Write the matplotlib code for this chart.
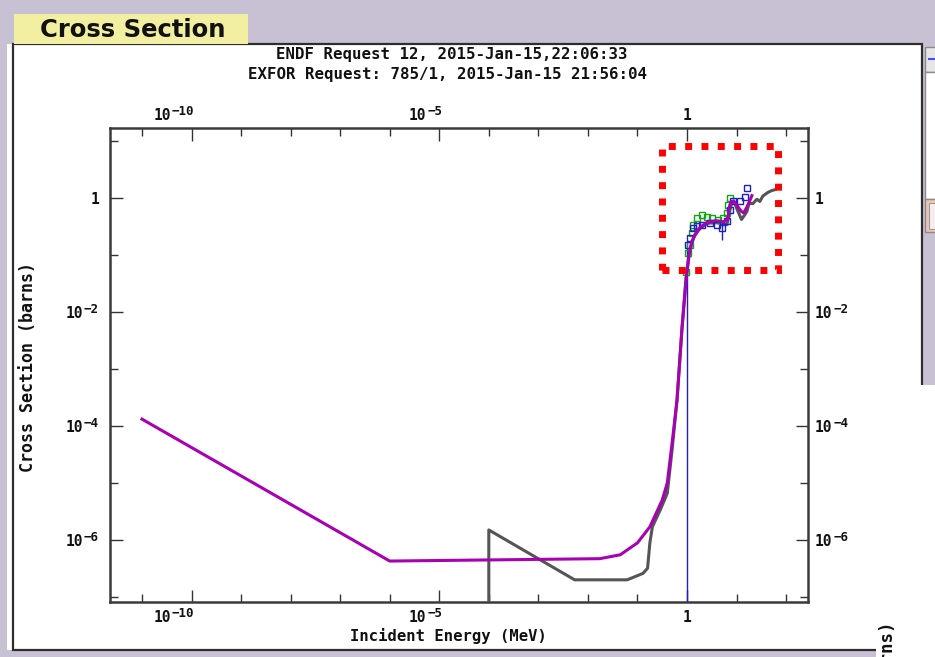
import math
import matplotlib
matplotlib.use("Agg")
import matplotlib.pyplot as plt
import matplotlib.transforms as mtransforms
from matplotlib.patches import Rectangle
from matplotlib.ticker import FixedLocator, NullFormatter

MONO = "DejaVu Sans Mono"

# ---- evaluated cross section (ENDF, purple) ----
endf_e = [1e-11, 1e-6, 1.74e-2, 4.5e-2, 0.1, 0.178, 0.316, 0.40, 0.50, 0.63,
          0.79, 0.955, 1.1, 1.25, 1.45, 1.8, 2.6, 3.9, 5.4, 6.6, 7.3, 8.0,
          8.8, 10.0, 12.5, 14.0, 16.0, 18.0, 20.4]
endf_s = [1.32e-4, 4.27e-7, 4.7e-7, 5.5e-7, 8.9e-7, 1.7e-6, 5.0e-6, 1.0e-5,
          5.0e-5, 2.9e-4, 5.0e-3, 0.035, 0.10, 0.17, 0.23, 0.30, 0.38, 0.40,
          0.38, 0.42, 0.75, 0.88, 0.86, 0.76, 0.58, 0.55, 0.68, 0.85, 1.10]

# ---- second evaluation (grey) ----
eval2_e = [1e-4, 1e-4, 5.4e-3, 1.74e-2, 6.2e-2, 0.13, 0.16, 0.178, 0.20,
           0.29, 0.40, 0.50, 0.63, 0.79, 0.955, 1.1, 1.25, 1.45, 1.8, 2.6,
           3.9, 5.4, 6.4, 7.3, 8.0, 8.9, 10.5, 12.6, 14.5, 16.2, 17.8, 21.4,
           25.7, 29.5, 33.9, 42.7, 51.3, 60.0]
eval2_s = [1e-9, 1.5e-6, 2.0e-7, 2.0e-7, 2.0e-7, 2.6e-7, 3.2e-7, 8.9e-7,
           1.7e-6, 3.4e-6, 6.6e-6, 3.8e-5, 2.9e-4, 5.0e-3, 0.04, 0.10, 0.17,
           0.22, 0.29, 0.36, 0.37, 0.35, 0.34, 0.60, 0.85, 0.88, 0.60, 0.42,
           0.50, 0.58, 0.80, 0.80, 0.95, 0.87, 1.08, 1.25, 1.35, 1.40]

# ---- EXFOR measurement, set 1 (blue squares) ----
exp1_e = [1.05, 1.15, 1.32, 1.58, 2.0, 2.9, 4.1, 5.1, 6.5, 7.4, 8.5, 11.7, 14.8, 16.2]
exp1_s = [0.15, 0.20, 0.30, 0.32, 0.34, 0.36, 0.34, 0.30, 0.40, 0.62, 0.89, 0.89, 1.05, 1.50]
exp1_err_e = [5.1]
exp1_err_lo = [0.18]
exp1_err_hi = [0.41]
# threshold line of set 1
exp1_line_e = [1.0, 1.0]
exp1_line_s = [1e-9, 0.15]

# ---- EXFOR measurement, set 2 (green squares) ----
exp2_e = [0.97, 1.05, 1.15, 1.26, 1.32, 1.58, 2.0, 2.5, 3.2, 4.2, 5.3, 6.4, 6.7, 7.4]
exp2_s = [0.05, 0.11, 0.15, 0.24, 0.34, 0.45, 0.50, 0.46, 0.45, 0.41, 0.45, 0.55, 0.75, 1.00]

# highlighted region (energy, cross-section corners)
box_e = [0.316, 69.0]
box_s = [0.055, 8.1]

x_major = [1e-10, 1e-5, 1.0]
x_minor = [10.0 ** k for k in range(-11, 3)]
y_major = [1.0, 1e-2, 1e-4, 1e-6]
y_minor = [10.0 ** k for k in range(-7, 2)]

W, H = 935, 657
fig = plt.figure(figsize=(W / 100, H / 100), dpi=100)
fig.patch.set_facecolor("#c8c0d3")


def box(x0, y0, x1, y1, **kw):
    kw.setdefault("zorder", -5)
    fig.add_artist(Rectangle((x0 / W, 1 - y1 / H), (x1 - x0) / W, (y1 - y0) / H,
                             transform=fig.transFigure, **kw))


# page panels
box(7, 44, 13, 650, facecolor="white", edgecolor="none")
box(13, 44, 922, 650, facecolor="white", edgecolor="#2e2e2e", linewidth=1.6)
box(876, 385, 935, 657, facecolor="white", edgecolor="none", zorder=-4)
box(14, 14, 248, 44, facecolor="#f3efa2", edgecolor="none")
# side widget
box(925, 47, 936, 72, facecolor="#e6e6e6", edgecolor="#8a8a8a", linewidth=1)
fig.add_artist(plt.Line2D([929 / W, 935 / W], [1 - 59 / H, 1 - 59 / H],
                          color="#4b4bf0", linewidth=1.5, transform=fig.transFigure))
box(925, 72, 936, 199, facecolor="white", edgecolor="#8a8a8a", linewidth=1)
box(925, 199, 936, 232, facecolor="#efc5b3", edgecolor="#8a8a8a", linewidth=1)
box(929, 203, 936, 229, facecolor="#f4eeee", edgecolor="#9a9a9a", linewidth=0.8)

fig.text(40 / W, 1 - 30 / H, "Cross Section", fontsize=17.5, fontweight="bold",
         family="DejaVu Sans", va="center", ha="left", color="#111111")

ax = fig.add_axes([110 / W, 1 - 602 / H, 698 / W, 474 / H])
ax.set_xscale("log")
ax.set_yscale("log")
ax.set_xlim(10 ** -11.645, 10 ** 2.442)
ax.set_ylim(10 ** -7.088, 10 ** 1.228)

ax.plot(eval2_e, eval2_s, color="#555555", linewidth=2.2, zorder=3)
ax.plot(endf_e, endf_s, color="#a800b4", linewidth=2.2, zorder=5)
ax.plot(exp1_line_e, exp1_line_s, color="#1f1fc8", linewidth=1.0, zorder=4)
ax.vlines(exp1_err_e, exp1_err_lo, exp1_err_hi, color="#1f1fc8", linewidth=1.0, zorder=4)
ax.plot(exp2_e, exp2_s, linestyle="none", marker="s", markersize=5,
        markerfacecolor="none", markeredgecolor="#11a611", markeredgewidth=1, zorder=4)
ax.plot(exp1_e, exp1_s, linestyle="none", marker="s", markersize=5,
        markerfacecolor="none", markeredgecolor="#1f1fc8", markeredgewidth=1, zorder=4)

ax.add_patch(Rectangle((box_e[0], box_s[0]), box_e[1] - box_e[0], box_s[1] - box_s[0],
                       fill=False, edgecolor="#ff0000", linewidth=5.0,
                       linestyle=(0, (1.0, 1.35)), capstyle="butt", zorder=6))

ax.xaxis.set_major_locator(FixedLocator(x_major))
ax.xaxis.set_minor_locator(FixedLocator(x_minor))
ax.yaxis.set_major_locator(FixedLocator(y_major))
ax.yaxis.set_minor_locator(FixedLocator(y_minor))
for a in (ax.xaxis, ax.yaxis):
    a.set_major_formatter(NullFormatter())
    a.set_minor_formatter(NullFormatter())

ax.tick_params(which="both", direction="in", top=True, right=True,
               color="#333333", width=1)
ax.tick_params(which="major", length=9)
ax.tick_params(which="minor", length=5.5)
for sp in ax.spines.values():
    sp.set_linewidth(1.8)
    sp.set_color("#3a3a3a")

# ---- power-of-ten tick labels: "10" with a raised exponent ----
BASE_PT = 10.5
EXP_PT = 9.0
CHAR = 0.602 * 100 / 72          # monospace advance, px per pt


def label_text(base, xy, dx, dy, txt, size, ha):
    tr = mtransforms.offset_copy(base, fig=fig, x=dx, y=dy, units="dots")
    ax.text(xy[0], xy[1], txt, transform=tr, family=MONO, fontweight="bold",
            fontsize=size, ha=ha, va="baseline", color="#111111", clip_on=False)


def power_label(base, xy, k, edge_x, dy_base, dy_exp, anchor):
    """anchor='right': block ends at edge_x; anchor='left': block starts at edge_x."""
    exp = "\u2212" + str(-k) if k < 0 else str(k)
    w_exp = len(exp) * CHAR * EXP_PT
    w_base = 2 * CHAR * BASE_PT
    if anchor == "right":
        label_text(base, xy, edge_x, dy_exp, exp, EXP_PT, "right")
        label_text(base, xy, edge_x - w_exp - 1, dy_base, "10", BASE_PT, "right")
    else:
        label_text(base, xy, edge_x, dy_base, "10", BASE_PT, "left")
        label_text(base, xy, edge_x + w_base + 1, dy_exp, exp, EXP_PT, "left")


xt = ax.get_xaxis_transform()
yt = ax.get_yaxis_transform()
for v in x_major:
    k = int(round(math.log10(v)))
    if k == 0:
        label_text(xt, (v, 0), 0, -20, "1", BASE_PT, "center")
        label_text(xt, (v, 1), 0, 8, "1", BASE_PT, "center")
    else:
        power_label(xt, (v, 0), k, 3, -20, -15, "right")
        power_label(xt, (v, 1), k, 3, 8, 13, "right")
for v in y_major:
    k = int(round(math.log10(v)))
    if k == 0:
        label_text(yt, (0, v), -11, -6, "1", BASE_PT, "right")
        label_text(yt, (1, v), 7, -6, "1", BASE_PT, "left")
    else:
        power_label(yt, (0, v), k, -11, -6, -1, "right")
        power_label(yt, (1, v), k, 7, -6, -1, "left")

ax.set_xlabel("Incident Energy (MeV)", family=MONO, fontweight="bold",
              fontsize=11.2, color="#111111", va="center")
ax.xaxis.set_label_coords((448 - 110) / 698, (602 - 636) / 474)
ax.set_ylabel("Cross Section (barns)", family=MONO, fontweight="bold",
              fontsize=12, color="#111111", va="center")
ax.yaxis.set_label_coords((28 - 110) / 698, (602 - 367) / 474)

fig.text(452 / W, 1 - 55 / H, "ENDF Request 12, 2015-Jan-15,22:06:33",
         family=MONO, fontweight="bold", fontsize=11.3, ha="center", va="center",
         color="#111111")
fig.text(447 / W, 1 - 75 / H, "EXFOR Request: 785/1, 2015-Jan-15 21:56:04",
         family=MONO, fontweight="bold", fontsize=11.3, ha="center", va="center",
         color="#111111")

# right-hand axis title, running off the bottom of the page
fig.text(888 / W, 1 - 622 / H, "Cross Section (barns)", family=MONO,
         fontweight="bold", fontsize=12.5, rotation=90, ha="center", va="top",
         color="#111111")

fig.savefig("out.png", dpi=100, facecolor=fig.get_facecolor())
